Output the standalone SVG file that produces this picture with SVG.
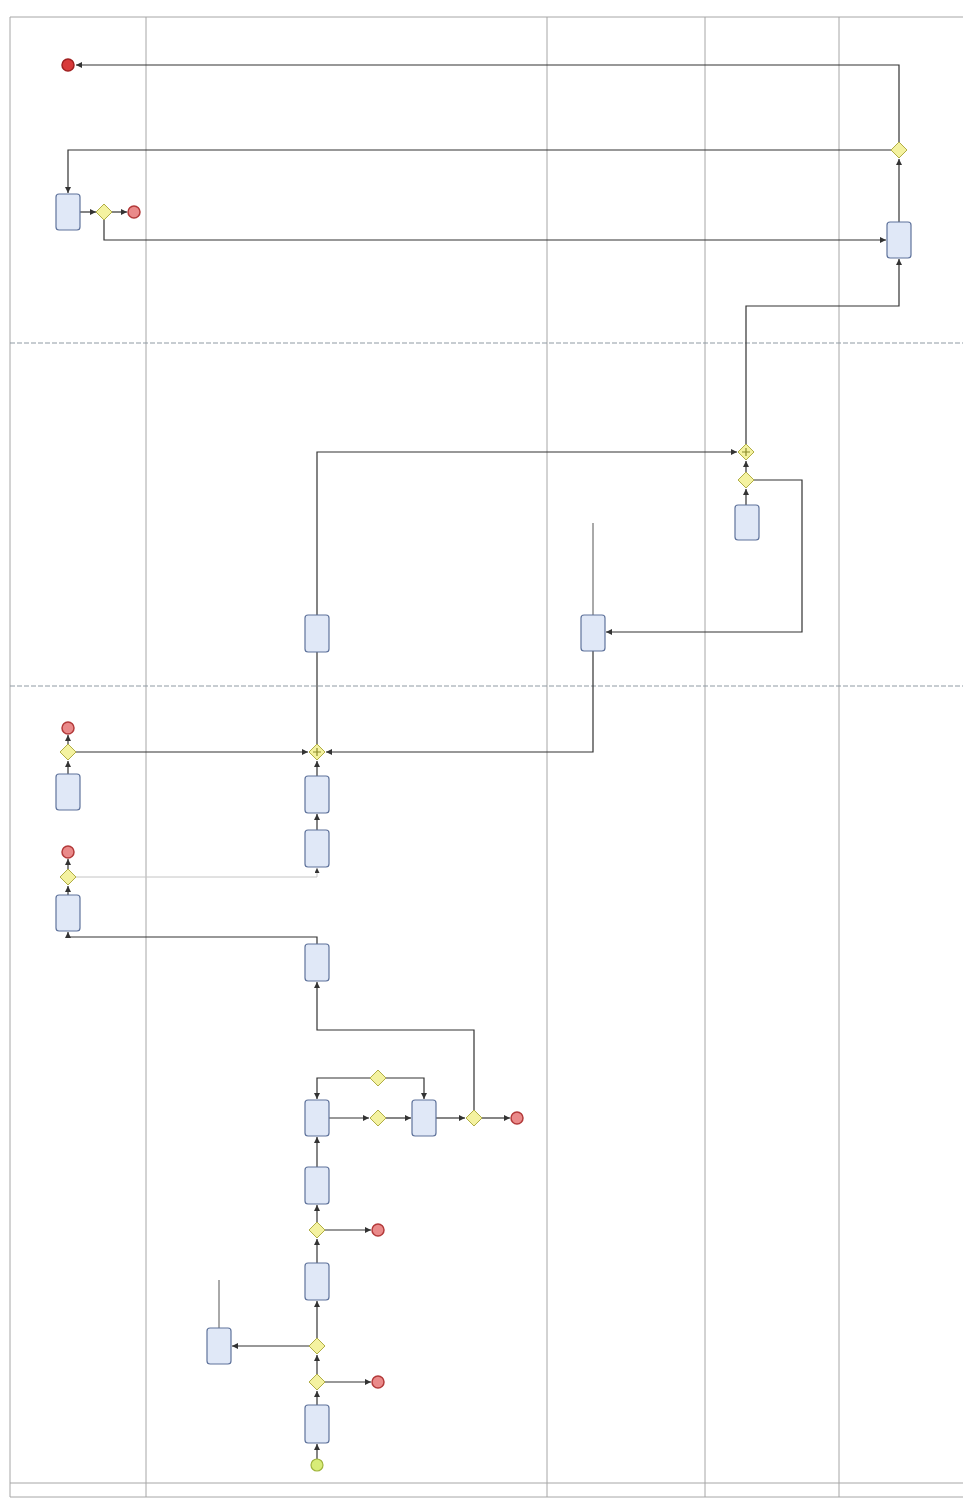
<svg xmlns="http://www.w3.org/2000/svg" width="963" height="1510" viewBox="0 0 963 1510">
<style>
.lane{stroke:#a6a6a6;stroke-width:1;fill:none}
.sep{stroke:#8f9aa3;stroke-width:1;stroke-dasharray:5 2;fill:none}
.task{fill:#e0e8f7;stroke:#5f739c;stroke-width:1.2}
.gw{fill:#f4f2a0;stroke:#b0ad45;stroke-width:1}
.end{fill:#ea8a8a;stroke:#b33a3a;stroke-width:1.5}
.endd{fill:#d83a3a;stroke:#a02020;stroke-width:1.5}
.start{fill:#d8ec78;stroke:#a0b43c;stroke-width:1.2}
.flow{stroke:#333;stroke-width:1.2;fill:none;marker-end:url(#arr)}
.flowl{stroke:#c4c4c4;stroke-width:1;fill:none;marker-end:url(#arr)}
.plain{stroke:#555;stroke-width:1;fill:none}
.plus{stroke:#8a8a2a;stroke-width:1.2}
</style>
<defs>
<marker id="arr" viewBox="0 0 6 6" refX="6" refY="3" markerWidth="5" markerHeight="5" orient="auto"><path d="M0,0 L6,3 L0,6 z" fill="#333"/></marker>
</defs>
<rect width="963" height="1510" fill="#fff"/>
<g id="lanes">
<path class="lane" d="M10,17 H963 M10,17 V1497 M146,17 V1497 M547,17 V1497 M705,17 V1497 M839,17 V1497 M10,1483 H963 M10,1497 H963"/>
<path class="sep" d="M10,343 H963 M10,686 H963"/>
</g>
<g id="connectors">
<path class="flow" d="M899,142 V65 H76"/>
<path class="flow" d="M891,150 H68 V193"/>
<path class="flow" d="M80,212 H96"/>
<path class="flow" d="M112,212 H127"/>
<path class="flow" d="M104,220 V240 H886"/>
<path class="flow" d="M899,222 V159"/>
<path class="flow" d="M746,444 V306 H899 V259"/>
<path class="flow" d="M746,472 V461"/>
<path class="flow" d="M746,505 V489"/>
<path class="flow" d="M754,480 H802 V632 H606"/>
<path class="plain" d="M593,523 V615"/>
<path class="flow" d="M593,651 V752 H326"/>
<path class="flow" d="M317,744 V452 H737"/>
<path class="flow" d="M76,752 H308"/>
<path class="flow" d="M68,744 V735"/>
<path class="flow" d="M68,774 V761"/>
<path class="flow" d="M317,776 V761"/>
<path class="flow" d="M317,830 V814"/>
<path class="flowl" d="M76,877 H317 V868"/>
<path class="flow" d="M68,869 V859"/>
<path class="flow" d="M68,895 V886"/>
<path class="flow" d="M317,944 V937 H68 V932"/>
<path class="flow" d="M474,1110 V1030 H317 V982"/>
<path class="flow" d="M482,1118 H510"/>
<path class="flow" d="M436,1118 H465"/>
<path class="flow" d="M386,1118 H411"/>
<path class="flow" d="M329,1118 H369"/>
<path class="flow" d="M370,1078 H317 V1099"/>
<path class="flow" d="M386,1078 H424 V1099"/>
<path class="flow" d="M317,1167 V1137"/>
<path class="flow" d="M317,1222 V1205"/>
<path class="flow" d="M325,1230 H371"/>
<path class="flow" d="M317,1263 V1239"/>
<path class="flow" d="M317,1338 V1301"/>
<path class="flow" d="M309,1346 H232"/>
<path class="plain" d="M219,1280 V1328"/>
<path class="flow" d="M317,1374 V1355"/>
<path class="flow" d="M325,1382 H371"/>
<path class="flow" d="M317,1405 V1391"/>
<path class="flow" d="M317,1459 V1444"/>
</g>
<g id="ev_end_top"><circle class="endd" cx="68" cy="65" r="6"/></g>
<g id="gw_top"><polygon class="gw" points="899,142 907,150 899,158 891,150"/></g>
<g id="task_top_left"><rect class="task" x="56" y="194" width="24" height="36" rx="3"/></g>
<g id="gw_top_left"><polygon class="gw" points="104,204 112,212 104,220 96,212"/></g>
<g id="ev_end_top2"><circle class="end" cx="134" cy="212" r="6"/></g>
<g id="task_top_right"><rect class="task" x="887" y="222" width="24" height="36" rx="3"/></g>
<g id="pgw_mid"><polygon class="gw" points="746,444 754,452 746,460 738,452"/><path class="plus" d="M742,452 H750 M746,448 V456"/></g>
<g id="gw_mid"><polygon class="gw" points="746,472 754,480 746,488 738,480"/></g>
<g id="task_mid_right"><rect class="task" x="735" y="505" width="24" height="35" rx="3"/></g>
<g id="task_mid_center"><rect class="task" x="581" y="615" width="24" height="36" rx="3"/></g>
<g id="task_mid_left"><rect class="task" x="305" y="615" width="24" height="37" rx="3"/></g>
<g id="pgw_low"><polygon class="gw" points="317,744 325,752 317,760 309,752"/><path class="plus" d="M313,752 H321 M317,748 V756"/></g>
<g id="gw_low1"><polygon class="gw" points="68,744 76,752 68,760 60,752"/></g>
<g id="ev_end_low1"><circle class="end" cx="68" cy="728" r="6"/></g>
<g id="task_low1"><rect class="task" x="56" y="774" width="24" height="36" rx="3"/></g>
<g id="task_low2"><rect class="task" x="305" y="776" width="24" height="37" rx="3"/></g>
<g id="task_low3"><rect class="task" x="305" y="830" width="24" height="37" rx="3"/></g>
<g id="gw_low2"><polygon class="gw" points="68,869 76,877 68,885 60,877"/></g>
<g id="ev_end_low2"><circle class="end" cx="68" cy="852" r="6"/></g>
<g id="task_low4"><rect class="task" x="56" y="895" width="24" height="36" rx="3"/></g>
<g id="task_low5"><rect class="task" x="305" y="944" width="24" height="37" rx="3"/></g>
<g id="gw_low3"><polygon class="gw" points="474,1110 482,1118 474,1126 466,1118"/></g>
<g id="ev_end_low3"><circle class="end" cx="517" cy="1118" r="6"/></g>
<g id="task_low6"><rect class="task" x="412" y="1100" width="24" height="36" rx="3"/></g>
<g id="gw_low4"><polygon class="gw" points="378,1110 386,1118 378,1126 370,1118"/></g>
<g id="task_low7"><rect class="task" x="305" y="1100" width="24" height="36" rx="3"/></g>
<g id="gw_low5"><polygon class="gw" points="378,1070 386,1078 378,1086 370,1078"/></g>
<g id="task_low8"><rect class="task" x="305" y="1167" width="24" height="37" rx="3"/></g>
<g id="gw_low6"><polygon class="gw" points="317,1222 325,1230 317,1238 309,1230"/></g>
<g id="ev_end_low4"><circle class="end" cx="378" cy="1230" r="6"/></g>
<g id="task_low9"><rect class="task" x="305" y="1263" width="24" height="37" rx="3"/></g>
<g id="gw_low7"><polygon class="gw" points="317,1338 325,1346 317,1354 309,1346"/></g>
<g id="task_low10"><rect class="task" x="207" y="1328" width="24" height="36" rx="3"/></g>
<g id="gw_low8"><polygon class="gw" points="317,1374 325,1382 317,1390 309,1382"/></g>
<g id="ev_end_low5"><circle class="end" cx="378" cy="1382" r="6"/></g>
<g id="task_low11"><rect class="task" x="305" y="1405" width="24" height="38" rx="3"/></g>
<g id="ev_start"><circle class="start" cx="317" cy="1465" r="6"/></g>
</svg>
